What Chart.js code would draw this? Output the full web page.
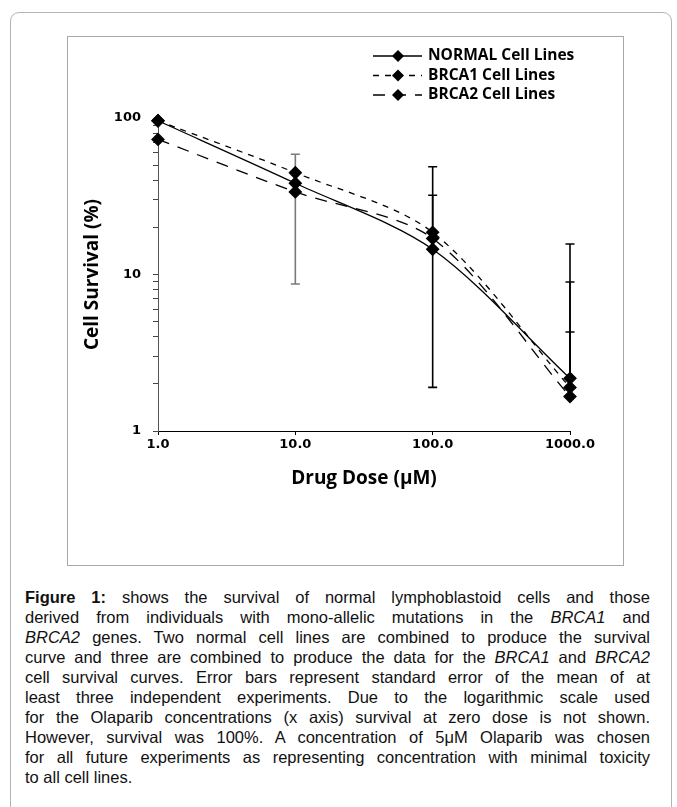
<!DOCTYPE html>
<html>
<head>
<meta charset="utf-8">
<script src="https://cdn.jsdelivr.net/npm/chart.js@4.4.1/dist/chart.umd.min.js"></script>
<style>
  body { margin: 0; background: #fff; width: 677px; height: 807px; position: relative; overflow: hidden; }
  #frame { position: absolute; left: 10px; top: 12px; width: 662px; height: 820px; border: 1px solid #b4b4b4; border-radius: 9px; box-sizing: border-box; }
  #chart-box { position: absolute; left: 68px; top: 37px; width: 555px; height: 528px; }
  #chart-border { position: absolute; left: 67px; top: 36px; width: 557px; height: 530px; border: 1.5px solid #a8a8a8; box-sizing: border-box; pointer-events: none; }
  #caption { position: absolute; left: 25px; top: 587px; width: 625px; font-family: "Liberation Sans", Arial, sans-serif; font-size: 16.5px; line-height: 20px; color: #111; }
  #caption div { text-align: justify; text-align-last: justify; white-space: nowrap; }
  #caption div.last { text-align-last: left; }
</style>
</head>
<body>
<div id="frame"></div>
<div id="chart-box"><canvas id="survival-chart" width="555" height="528"></canvas></div>
<div id="chart-border"></div>
<div id="caption">
  <div><b>Figure 1:</b> shows the survival of normal lymphoblastoid cells and those</div>
  <div>derived from individuals with mono-allelic mutations in the <i>BRCA1</i> and</div>
  <div><i>BRCA2</i> genes. Two normal cell lines are combined to produce the survival</div>
  <div>curve and three are combined to produce the data for the <i>BRCA1</i> and <i>BRCA2</i></div>
  <div>cell survival curves. Error bars represent standard error of the mean of at</div>
  <div>least three independent experiments. Due to the logarithmic scale used</div>
  <div>for the Olaparib concentrations (x axis) survival at zero dose is not shown.</div>
  <div>However, survival was 100%. A concentration of 5μM Olaparib was chosen</div>
  <div>for all future experiments as representing concentration with minimal toxicity</div>
  <div class="last">to all cell lines.</div>
</div>
<script>
// Drug dose (µM) and % survival
const doses = [1, 10, 100, 1000];
const normalSurvival = [96, 38.3, 14.5, 2.17];
const brca1Survival = [96, 44.7, 18.6, 1.9];
const brca2Survival = [73, 33.7, 17.0, 1.66];

// standard error (0 = bar hidden behind the marker)
const normalErr = [0, 0, 0, 13.5];
const brca1Err = [0, 0, 30.2, 7.06];
const brca2Err = [0, 25.0, 15.1, 2.63];

const xTickValues = [1, 10, 100, 1000];
const yTickValues = [1, 2, 3, 4, 5, 6, 7, 8, 9, 10, 20, 30, 40, 50, 60, 70, 80, 90, 100];

function toPoints(values) {
    return doses.map((d, i) => ({ x: d, y: values[i] }));
}

// vertical error bars, drawn under the lines and markers
const errorBars = {
    id: "errorBars",
    beforeDatasetsDraw(chart) {
        const { ctx, scales: { x, y } } = chart;
        ctx.save();
        chart.data.datasets.forEach((ds) => {
            ds.errors.forEach((e, i) => {
                if (!e) return;
                const v = ds.data[i].y;
                const px = x.getPixelForValue(ds.data[i].x);
                const top = y.getPixelForValue(v + e);
                const hasLow = v - e > 0;
                const bottom = hasLow ? y.getPixelForValue(v - e) : y.getPixelForValue(v);
                ctx.strokeStyle = (ds.errorColors && ds.errorColors[i]) || "#000";
                ctx.lineWidth = 1.6;
                ctx.beginPath();
                ctx.moveTo(px, top);
                ctx.lineTo(px, bottom);
                ctx.moveTo(px - 4.5, top);
                ctx.lineTo(px + 4.5, top);
                if (hasLow) {
                    ctx.moveTo(px - 4.5, bottom);
                    ctx.lineTo(px + 4.5, bottom);
                }
                ctx.stroke();
            });
        });
        ctx.restore();
    },
};

// legend in the top right corner: line sample with diamond, then the name
const lineLegend = {
    id: "lineLegend",
    afterDraw(chart) {
        const ctx = chart.ctx;
        ctx.save();
        chart.data.datasets.forEach((ds, i) => {
            const yy = 19 + i * 19.5;
            ctx.strokeStyle = "#000";
            ctx.lineWidth = 1.3;
            ctx.setLineDash(ds.borderDash || []);
            ctx.beginPath();
            ctx.moveTo(305, yy);
            ctx.lineTo(354, yy);
            ctx.stroke();
            ctx.setLineDash([]);
            ctx.fillStyle = "#000";
            ctx.beginPath();
            ctx.moveTo(330, yy - 6);
            ctx.lineTo(336, yy);
            ctx.lineTo(330, yy + 6);
            ctx.lineTo(324, yy);
            ctx.closePath();
            ctx.fill();
            ctx.font = "bold 15.5px 'Open Sans'";
            ctx.textBaseline = "middle";
            ctx.fillText(ds.label, 360, yy);
        });
        ctx.restore();
    },
};

const common = {
    borderColor: "#000",
    borderWidth: 1.3,
    backgroundColor: "#000",
    pointStyle: "rectRot",
    pointRadius: 6,
    pointHoverRadius: 6,
    pointBackgroundColor: "#000",
    pointBorderColor: "#000",
    tension: 0.3,
    clip: false,
};

new Chart(document.getElementById("survival-chart").getContext("2d"), {
    type: "line",
    data: {
        datasets: [
            { ...common, label: "NORMAL Cell Lines", data: toPoints(normalSurvival), errors: normalErr },
            { ...common, label: "BRCA1 Cell Lines", data: toPoints(brca1Survival), errors: brca1Err, borderDash: [6, 6] },
            { ...common, label: "BRCA2 Cell Lines", data: toPoints(brca2Survival), errors: brca2Err, borderDash: [12, 9],
              errorColors: ["#000", "#7a7a7a", "#000", "#000"] },
        ],
    },
    options: {
        responsive: false,
        animation: false,
        events: [],
        layout: { padding: { top: 81, right: 53, left: 0, bottom: 0 } },
        plugins: { legend: { display: false }, tooltip: { enabled: false } },
        scales: {
            x: {
                type: "logarithmic",
                min: 1,
                max: 1000,
                afterBuildTicks: (s) => { s.ticks = xTickValues.map((v) => ({ value: v })); },
                afterFit: (s) => { s.height = 134; },
                grid: { drawOnChartArea: false, drawTicks: true, tickLength: 4, color: "#000" },
                border: { color: "#000", width: 1 },
                ticks: {
                    padding: 2,
                    color: "#000",
                    maxRotation: 0,
                    font: { family: "DejaVu Sans", weight: "bold", size: 13 },
                    callback: (v) => v.toFixed(1),
                },
                title: {
                    display: true,
                    text: "Drug Dose (μM)",
                    color: "#000",
                    font: { family: "Open Sans", weight: "bold", size: 19 },
                    padding: { bottom: 75 },
                },
            },
            y: {
                type: "logarithmic",
                min: 1,
                max: 100,
                afterBuildTicks: (s) => { s.ticks = yTickValues.map((v) => ({ value: v })); },
                afterFit: (s) => { s.width = 90; },
                grid: { drawOnChartArea: false, drawTicks: true, tickLength: 5, color: "#444" },
                border: { color: "#555", width: 1 },
                ticks: {
                    padding: 12,
                    color: "#000",
                    autoSkip: false,
                    font: { family: "DejaVu Sans", weight: "bold", size: 13 },
                    callback: (v) => ([1, 10, 100].includes(v) ? String(v) : ""),
                },
                title: {
                    display: true,
                    text: "Cell Survival (%)",
                    color: "#000",
                    font: { family: "Open Sans", weight: "bold", size: 19 },
                    padding: { top: 13 },
                },
            },
        },
    },
    plugins: [errorBars, lineLegend],
});
</script>
</body>
</html>
